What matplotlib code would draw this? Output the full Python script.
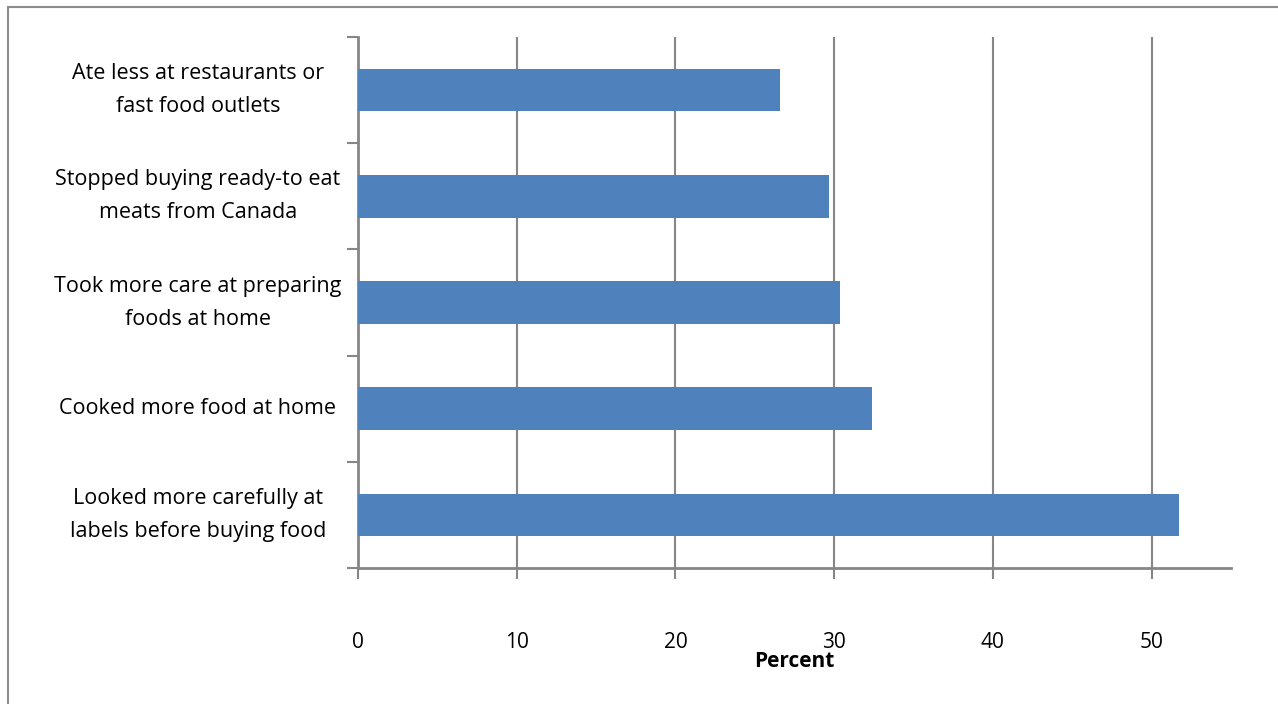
import numpy as np
import matplotlib.pyplot as plt
from matplotlib.patches import Rectangle
import matplotlib.transforms as mtransforms

plt.rcParams['font.family'] = ['Open Sans', 'DejaVu Sans']

actions = ['Ate less at restaurants or\nfast food outlets',
           'Stopped buying ready-to eat\nmeats from Canada',
           'Took more care at preparing\nfoods at home',
           'Cooked more food at home',
           'Looked more carefully at\nlabels before buying food']
percent = [26.6, 29.7, 30.4, 32.4, 51.7]
xticks = [0, 10, 20, 30, 40, 50]

fig = plt.figure(figsize=(12.78, 7.04), dpi=100)
ax = fig.add_axes([0.2801, 0.1932, 0.6831, 0.7542])

# outer chart border
fig.patches.append(Rectangle((8 / 1278, -0.01), 1.2, 1 - 7 / 704 + 0.01,
                             transform=fig.transFigure, fill=False,
                             edgecolor='#8c8c8c', linewidth=1.5))

y = np.arange(len(actions))
ax.barh(y, percent, height=0.4, color='#4F81BD', zorder=3)
ax.set_ylim(len(actions) - 0.5, -0.5)
ax.set_xlim(0, 55)

ax.set_xticks(xticks)
ax.set_xticklabels([str(t) for t in xticks], fontsize=15)
ax.set_yticks(np.arange(len(actions) + 1) - 0.5)
ax.set_yticklabels([])
ax.tick_params(axis='y', length=8, width=1.5, color='#868686')
ax.tick_params(axis='x', length=8, width=1.5, color='#868686', pad=38)

# category labels, centred in the left margin
trans = mtransforms.blended_transform_factory(fig.transFigure, ax.transData)
for yi, lab in zip(y, actions):
    ax.text(198 / 1278, yi, lab, transform=trans, ha='center', va='center',
            fontsize=15.5, linespacing=1.75)

ax.grid(axis='x', color='#868686', linewidth=1.5, zorder=0)
for s in ['top', 'right']:
    ax.spines[s].set_visible(False)
for s in ['left', 'bottom']:
    ax.spines[s].set_color('#868686')
    ax.spines[s].set_linewidth(2)

ax.set_xlabel('Percent', fontsize=15, fontweight='bold', labelpad=-1)

fig.savefig('out.png', dpi=100)
